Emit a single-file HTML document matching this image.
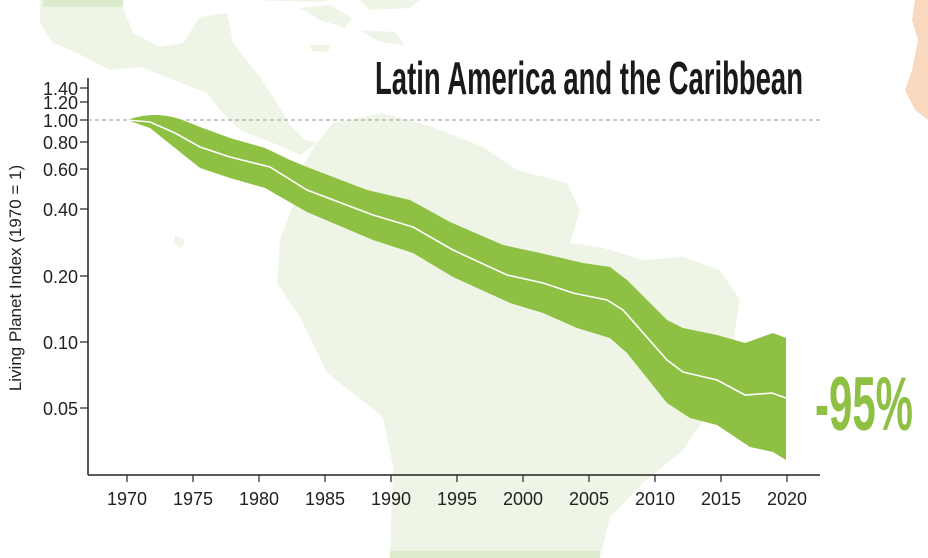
<!DOCTYPE html>
<html><head><meta charset="utf-8"><style>
body{margin:0;background:#fff;}
svg{display:block;font-family:"Liberation Sans",sans-serif;}
</style></head><body>
<svg width="928" height="558" viewBox="0 0 928 558">
<g fill="#eef5e6">
<!-- Mexico / Central America -->
<path d="M40,0 L120,0 L133,33 L160,47 L183,43 L200,17 L227,13 L233,43 L260,77 L275,100 L290,125 L305,140 L317,143 L300,155 L273,143 L240,130 L220,110 L207,93 L173,80 L140,67 L110,70 L77,53 L53,43 L40,23 Z"/>
<!-- South America -->
<path d="M317,143 L333,123 L383,113 L433,127 L483,147 L517,170 L567,183 L580,210 L570,243 L600,247 L643,260 L683,257 L720,270 L740,300 L735,330 L730,367 L710,410 L683,450 L643,483 L610,517 L600,558 L390,558 L393,467 L383,417 L327,373 L300,317 L277,283 L280,240 L295,200 L300,170 Z"/>
<!-- Caribbean islands -->
<path d="M300,8 L330,5 L352,18 L345,28 L320,20 Z"/>
<path d="M360,30 L395,32 L405,45 L380,42 Z"/>
<path d="M310,45 L330,45 L328,52 L312,51 Z"/>
<path d="M250,0 L330,0 L320,2 Z"/>
<path d="M360,0 L420,0 L410,8 L370,10 Z"/>
<path d="M175,235 L185,240 L182,248 L174,244 Z"/>
</g>
<rect x="43" y="0" width="80" height="7" fill="#dcebcc"/>
<rect x="390" y="551" width="210" height="7" fill="#dcebcc"/>
<path d="M915,0 L928,0 L928,120 L915,110 L905,90 L912,70 L918,40 L912,20 Z" fill="#f8d9c0"/>
<!-- axes -->
<line x1="88" y1="78" x2="88" y2="475" stroke="#222" stroke-width="1.5"/>
<line x1="88" y1="475" x2="820" y2="475" stroke="#222" stroke-width="1.5"/>
<line x1="88" y1="120" x2="820" y2="120" stroke="#999" stroke-dasharray="4,3" stroke-width="1"/>
<g stroke="#222" stroke-width="1.2">
<line x1="80" y1="88" x2="88" y2="88"/><line x1="80" y1="102" x2="88" y2="102"/><line x1="80" y1="120" x2="88" y2="120"/>
<line x1="80" y1="142" x2="88" y2="142"/><line x1="80" y1="169" x2="88" y2="169"/><line x1="80" y1="209" x2="88" y2="209"/>
<line x1="80" y1="276" x2="88" y2="276"/><line x1="80" y1="342" x2="88" y2="342"/><line x1="80" y1="408" x2="88" y2="408"/>
<line x1="127" y1="475" x2="127" y2="482"/><line x1="193" y1="475" x2="193" y2="482"/><line x1="259" y1="475" x2="259" y2="482"/>
<line x1="325" y1="475" x2="325" y2="482"/><line x1="391" y1="475" x2="391" y2="482"/><line x1="457" y1="475" x2="457" y2="482"/>
<line x1="523" y1="475" x2="523" y2="482"/><line x1="589" y1="475" x2="589" y2="482"/><line x1="655" y1="475" x2="655" y2="482"/>
<line x1="721" y1="475" x2="721" y2="482"/><line x1="787" y1="475" x2="787" y2="482"/>
</g>
<g font-size="18" fill="#222" text-anchor="end">
<text x="78" y="95">1.40</text><text x="78" y="109">1.20</text><text x="78" y="127">1.00</text>
<text x="78" y="149">0.80</text><text x="78" y="176">0.60</text><text x="78" y="216">0.40</text>
<text x="78" y="283">0.20</text><text x="78" y="349">0.10</text><text x="78" y="415">0.05</text>
</g>
<g font-size="18" fill="#222" text-anchor="middle">
<text x="127" y="505">1970</text><text x="193" y="505">1975</text><text x="259" y="505">1980</text>
<text x="325" y="505">1985</text><text x="391" y="505">1990</text><text x="457" y="505">1995</text>
<text x="523" y="505">2000</text><text x="589" y="505">2005</text><text x="655" y="505">2010</text>
<text x="721" y="505">2015</text><text x="787" y="505">2020</text>
</g>
<text transform="translate(21,278) rotate(-90)" font-size="17" fill="#222" text-anchor="middle">Living Planet Index (1970 = 1)</text>
<!-- band -->
<path fill="#8dc043" d="M127,120 C135,117 145,115 155,115 C165,115 175,117 185,121 L200,127 L230,138 L265,148 L290,160 L307,167 L367,190 L410,200 L450,222 L503,245 L540,253 L583,263 L610,267 L627,280 L667,320 L683,328 L717,335 L745,343 L773,333 L786,338 L786,460 L773,452 L750,447 L717,425 L690,418 L667,403 L627,353 L610,338 L577,328 L543,313 L510,303 L453,277 L413,253 L373,240 L307,212 L265,188 L230,178 L200,168 L175,148 L150,128 Z"/>
<path fill="none" stroke="#fff" stroke-width="1.6" d="M127,120 L150,122 L175,133 L200,147 L230,157 L250,162 L270,167 L307,190 L373,215 L413,227 L453,250 L507,275 L543,283 L573,293 L607,300 L623,310 L667,360 L683,372 L717,380 L745,395 L772,393 L786,398"/>
<text x="803" y="94" font-family="'Liberation Sans Narrow','Liberation Sans',sans-serif" font-weight="bold" font-size="46" fill="#1a1a1a" text-anchor="end" textLength="428" lengthAdjust="spacingAndGlyphs">Latin America and the Caribbean</text>
<text x="913" y="430" font-family="'Liberation Sans Narrow','Liberation Sans',sans-serif" font-weight="bold" font-size="76" fill="#8dc043" text-anchor="end" textLength="98" lengthAdjust="spacingAndGlyphs">-95%</text>
</svg>
</body></html>
